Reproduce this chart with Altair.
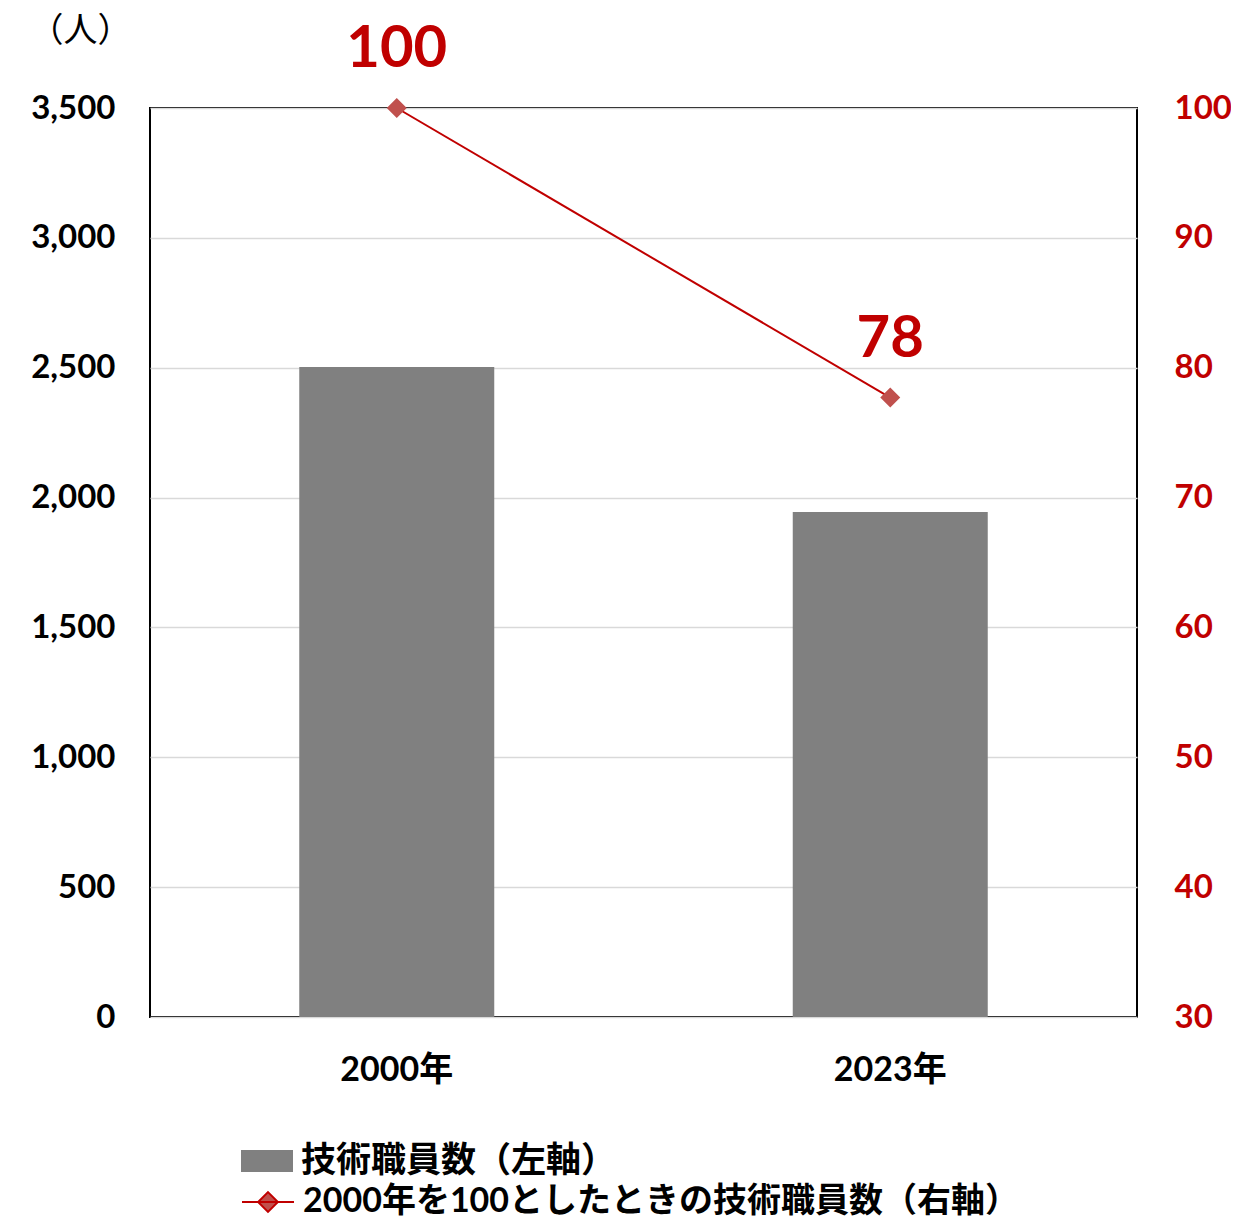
import altair as alt
import pandas as pd

years = ["2000年", "2023年"]
staff = [2503, 1944]
index_vals = [100, 77.7]
index_labels = ["100", "78"]
bar_name = "技術職員数（左軸）"
line_name = "2000年を100としたときの技術職員数（右軸）"

df = pd.DataFrame({
    "year": years,
    "staff": staff,
    "idx": index_vals,
    "lab": index_labels,
    "s1": [bar_name] * 2,
    "s2": [line_name] * 2,
})

FONT = "Lato, Noto Sans CJK JP, sans-serif"
RED = "#C00000"
MARK = "#C0504D"

x = alt.X("year:N", title=None, sort=years,
          scale=alt.Scale(paddingInner=0.0, paddingOuter=0.0),
          axis=alt.Axis(labelAngle=0, labelFont=FONT, labelFontSize=34, labelFontWeight="bold",
                        labelColor="black", labelPadding=36, ticks=False, domain=False, grid=False))

bars = alt.Chart(df).mark_bar(size=195).encode(
    x=x,
    y=alt.Y("staff:Q", scale=alt.Scale(domain=[0, 3500]),
            axis=alt.Axis(values=list(range(0, 3501, 500)), format=",.0f", title="（人）",
                          titleAngle=0, titleX=-70, titleY=-77, titleBaseline="middle",
                          titleFont=FONT, titleFontSize=34,
                          titleFontWeight="normal", titleColor="black", titleAlign="center",
                          labelFont=FONT, labelFontSize=33, labelFontWeight="bold", labelColor="black",
                          labelPadding=35, ticks=False, domain=False, grid=True,
                          gridColor="#D9D9D9", gridWidth=1.5)),
    fill=alt.Fill("s1:N", scale=alt.Scale(domain=[bar_name], range=["#808080"]),
                  legend=alt.Legend(title=None, orient="none", legendX=91, legendY=1027,
                                    symbolType="M-1,-0.42H1V0.42H-1Z", symbolSize=2704,
                                    symbolStrokeWidth=0,
                                    labelFont=FONT, labelFontSize=35, labelFontWeight="bold",
                                    labelColor="black", labelOffset=8, labelLimit=1000)),
)

y2 = alt.Y("idx:Q", scale=alt.Scale(domain=[30, 100]),
           axis=alt.Axis(orient="right", values=list(range(30, 101, 10)), title=None,
                         labelFont=FONT, labelFontSize=33, labelFontWeight="bold", labelColor=RED,
                         labelPadding=37, ticks=False, domain=False, grid=False))

line = alt.Chart(df).mark_line(strokeWidth=2).encode(
    x=x,
    y=y2,
    stroke=alt.Stroke("s2:N", scale=alt.Scale(domain=[line_name], range=[RED]),
                      legend=alt.Legend(title=None, orient="none", legendX=91, legendY=1067,
                                        symbolType="M-1,0H1M0,-0.38L0.38,0L0,0.38L-0.38,0Z",
                                        symbolSize=2704, symbolStrokeWidth=2, symbolFillColor=MARK,
                                        labelFont=FONT, labelFontSize=34, labelFontWeight="bold",
                                        labelColor="black", labelOffset=8, labelLimit=1000)),
)

pts = alt.Chart(df).mark_point(shape="diamond", filled=True, size=400, color=MARK, opacity=1).encode(
    x=x, y=y2
)

txt = alt.Chart(df).mark_text(dy=-58, font=FONT, fontSize=58, fontWeight="bold", color=RED).encode(
    x=x, y=y2, text="lab:N"
)

right = alt.layer(line, pts, txt)

chart = alt.layer(bars, right).resolve_scale(
    y="independent", fill="independent", stroke="independent"
).properties(
    width=987, height=909,
    autosize=alt.AutoSizeParams(type="none"),
    padding={"left": 142, "top": 100, "right": 94, "bottom": 203},
    background="white",
).configure(
    view=alt.ViewConfig(stroke="black", strokeWidth=2)
)

chart.save("out.html", embed_options={"renderer": "svg", "actions": False})
